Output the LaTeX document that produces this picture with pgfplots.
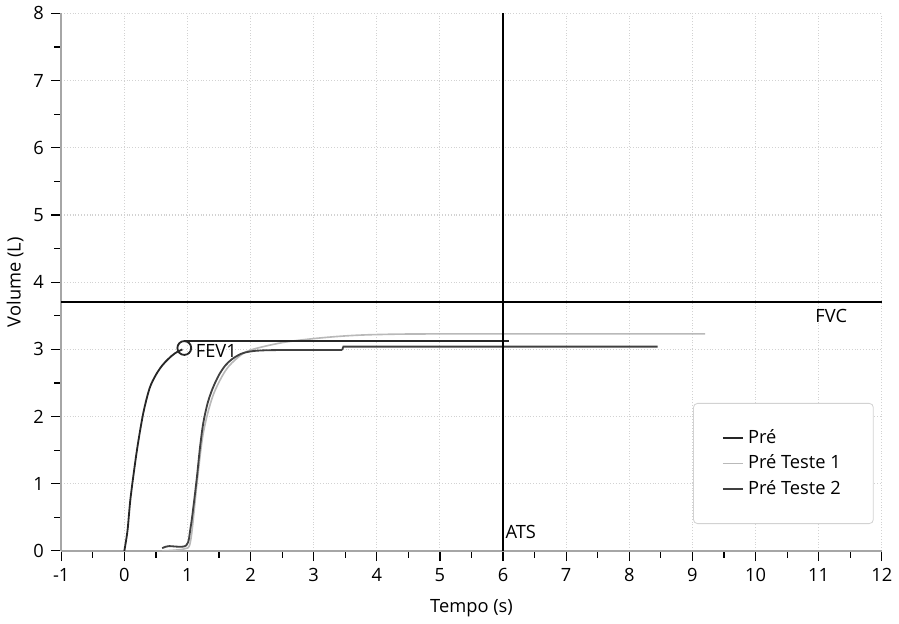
\documentclass[border=0pt]{standalone}
\usepackage{pgfplots}
\pgfplotsset{compat=1.18}
\usepackage{fontspec}
\setmainfont{Open Sans}

\begin{document}
\begin{tikzpicture}
\begin{axis}[
    width=14.2cm, height=9.3cm,
    scale only axis,
    font=\small,
    /pgf/number format/assume math mode=true,
    xmin=-1, xmax=12, ymin=0, ymax=8,
    axis lines*=left,
    axis line style={gray!70, line width=1pt},
    xtick={-1,...,12}, ytick={0,...,8},
    minor x tick num=1, minor y tick num=1,
    tick align=outside,
    tick style={black, line width=0.6pt},
    major tick length=5pt, minor tick length=3.5pt,
    grid=major,
    major grid style={gray!35, densely dotted, line width=0.5pt},
    xlabel={Tempo (s)}, ylabel={Volume (L)},
    xlabel style={yshift=-2pt},
    ylabel style={yshift=-2pt},
    legend cell align=left,
    legend style={at={(0.77,0.05)}, anchor=south west, draw=gray!35, rounded corners=2pt,
        inner xsep=14pt, inner ysep=11pt, row sep=0pt, font=\small},
    legend image code/.code={\draw[#1] (0cm,0cm) -- (0.35cm,0cm);},
]
% Pre
\addplot[black!85, line width=0.9pt, smooth] coordinates {
(0,0) (0.05,0.3) (0.1,0.8) (0.2,1.5) (0.3,2.05) (0.4,2.42) (0.5,2.62) (0.6,2.76) (0.7,2.86) (0.8,2.94) (0.92,3.0)
};
\addlegendentry{Pré}
% Pre Teste 1
\addplot[gray!55, line width=0.8pt, smooth] coordinates {
(0.6,0.0) (0.95,0.03) (1.05,0.15) (1.15,1.0) (1.25,1.75) (1.4,2.3) (1.6,2.68) (1.8,2.88) (2.0,2.99) (2.5,3.1) (3.0,3.16) (3.5,3.2) (4.0,3.22) (5,3.23) (9.2,3.23)
};
\addlegendentry{Pré Teste 1}
% Pre Teste 2
\addplot[black!75, line width=0.9pt, smooth] coordinates {
(0.6,0.04) (0.7,0.07) (0.98,0.08) (1.05,0.35) (1.1,0.7) (1.15,1.1) (1.2,1.55) (1.25,1.9) (1.32,2.2) (1.4,2.42) (1.5,2.62) (1.6,2.76) (1.7,2.85) (1.8,2.91) (1.9,2.95) (2.1,2.98) (2.5,2.99) (3.45,2.99)
};
\addlegendentry{Pré Teste 2}
\addplot[black!75, line width=0.9pt, forget plot] coordinates {(3.45,2.99) (3.47,3.04) (8.45,3.04)};
% Pre plateau
\addplot[black!85, line width=0.9pt, forget plot] coordinates {(0.95,3.12) (6.1,3.12)};
% FVC and ATS
\addplot[black, line width=0.9pt, forget plot] coordinates {(-1,3.7) (12,3.7)};
\addplot[black, line width=0.9pt, forget plot] coordinates {(6,0) (6,8)};
\addplot[black!85, only marks, mark=o, mark size=3.4pt, line width=0.9pt, forget plot] coordinates {(0.95,3.02)};
\node[anchor=west] at (axis cs:1.02,2.98) {FEV1};
\node[anchor=center] at (axis cs:11.2,3.5) {FVC};
\node[anchor=south west, inner sep=1pt] at (axis cs:6,0.15) {ATS};
\end{axis}
\end{tikzpicture}
\end{document}
